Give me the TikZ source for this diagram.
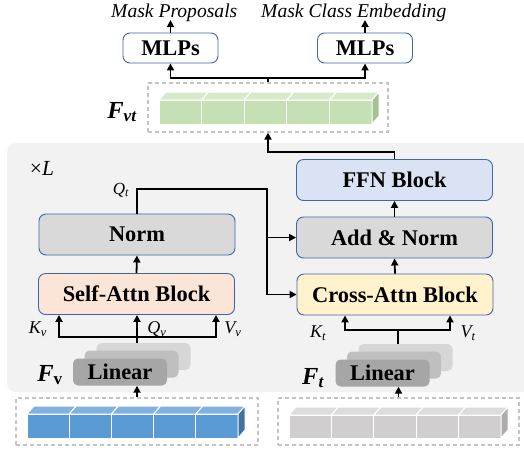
\documentclass[tikz,border=0pt]{standalone}
\usepackage{fontspec}
\setmainfont{Liberation Serif}
\usetikzlibrary{arrows.meta}

\definecolor{panelgray}{HTML}{F2F2F2}
\definecolor{edgeblue}{HTML}{3F66A8}
\definecolor{normfill}{HTML}{D9D9D9}
\definecolor{selffill}{HTML}{FBE5D6}
\definecolor{crossfill}{HTML}{FFF2CC}
\definecolor{ffnfill}{HTML}{DAE3F3}
\definecolor{linfront}{HTML}{A6A6A6}
\definecolor{linmid}{HTML}{BFBFBF}
\definecolor{linback}{HTML}{D6D6D6}
\definecolor{dashgray}{HTML}{C4C4C4}
\definecolor{bluefront}{HTML}{5B9BD5}
\definecolor{bluetop}{HTML}{80B1DF}
\definecolor{blueside}{HTML}{41719C}
\definecolor{grayfront}{HTML}{D0CECE}
\definecolor{graytop}{HTML}{DDDCDC}
\definecolor{grayside}{HTML}{AFABAB}
\definecolor{greenfront}{HTML}{C5E0B4}
\definecolor{greentop}{HTML}{D6EAC9}
\definecolor{greenside}{HTML}{A3C293}

% five-cell token bar: #1 left x, #2 top y of front faces, #3 cell width,
% #4 height, #5 front, #6 top, #7 side colour
\newcommand\cubebar[7]{%
  \foreach \i in {0,...,4}{%
    \path[fill=#5,draw=white,line width=1pt] ({#1+\i*#3},#2) rectangle ++(#3,#4);
    \path[fill=#6,draw=white,line width=1pt] ({#1+\i*#3},#2) -- ++(7,-8) -- ++(#3,0) -- ++(-7,8) -- cycle;
  }%
  \path[fill=#7,draw=white,line width=1pt] ({#1+5*#3},#2) -- ++(7,-8) -- ++(0,#4) -- ++(-7,8) -- cycle;
}

\tikzset{
  blockbox/.style={draw=edgeblue, line width=0.9pt, rounded corners=7pt,
    minimum width=196pt, minimum height=41pt, inner sep=0pt,
    font=\fontsize{22.4}{25}\selectfont\bfseries},
  mlpbox/.style={blockbox, fill=white, minimum width=95pt, minimum height=30pt},
  linbox/.style={rounded corners=5pt, minimum width=94pt, minimum height=27pt,
    inner sep=0pt, font=\fontsize{22.4}{25}\selectfont\bfseries},
  dashbox/.style={draw=dashgray, line width=1.1pt, dash pattern=on 4pt off 3pt,
    inner sep=0pt},
  line/.style={draw=black, line width=1.8pt},
  arr/.style={line, -{Triangle[length=7pt,width=7pt]}},
  arrtwo/.style={line, {Triangle[length=7pt,width=7pt]}-{Triangle[length=7pt,width=7pt]}},
  caption/.style={font=\fontsize{19.6}{23}\selectfont\itshape, inner sep=0pt},
  sublabel/.style={font=\fontsize{18}{21}\selectfont\itshape, inner sep=0pt},
  featlabel/.style={font=\fontsize{24.5}{28}\selectfont\bfseries\itshape, inner sep=0pt},
}

\begin{document}
\begin{tikzpicture}[x=1pt, y=-1pt]
\clip (0,0) rectangle (524,451);
\fill[white] (0,0) rectangle (524,451);

% repeated decoder layer panel
\fill[panelgray, rounded corners=9pt] (7,143) rectangle (545,392);
\node[font=\fontsize{21.5}{25}\selectfont, inner sep=0pt] (times) at (42,168) {×\textit{L}};

% output heads
\node[mlpbox] (mlp1) at (170.5,48) {MLPs};
\node[mlpbox] (mlp2) at (365,48) {MLPs};
\node[caption, anchor=base west] (cap1) at (111,17) {Mask Proposals};
\node[caption, anchor=base west] (cap2) at (261,17) {Mask Class Embedding};
\coordinate (cap1in) at (170.5,20);
\coordinate (cap2in) at (365,20);
\draw[arr] (mlp1.north) -- (cap1in);
\draw[arr] (mlp2.north) -- (cap2in);

% fused features F_vt
\node[dashbox, minimum width=240pt, minimum height=49pt] (fvt) at (268,107.5) {};
\cubebar{159}{100}{42.6}{24}{greenfront}{greentop}{greenside}
\node[featlabel] (fvtlab) at (122,112) {F\textsubscript{vt}};
\coordinate (bus) at (268,78);
\draw[line] (fvt.north) -- (bus);
\draw[arr] (bus) -| (mlp1.south);
\draw[arr] (bus) -| (mlp2.south);

% left branch
\node[blockbox, fill=normfill] (norm) at (137,234.5) {Norm};
\node[blockbox, fill=selffill] (self) at (136.5,294) {Self-Attn Block};
\draw[arr] (self.north) -- (norm.south);

% right branch
\node[blockbox, fill=ffnfill] (ffn) at (394.5,180) {FFN Block};
\node[blockbox, fill=normfill] (addnorm) at (394.5,237.5) {Add \& Norm};
\node[blockbox, fill=crossfill] (cross) at (395,294.5) {Cross-Attn Block};
\draw[arr] (addnorm.north) -- (ffn.south);
\draw[arr] (cross.north) -- (addnorm.south);

% FFN output back to F_vt
\coordinate (ffnturn) at (268,152);
\draw[arr] (ffn.north) |- (ffnturn) -- (fvt.south);

% query path Q_t
\coordinate (qt) at (267,189);
\node[sublabel, font=\fontsize{17}{20}\selectfont\itshape] (qtlab) at (121,190) {Q\textsubscript{t}};
\draw[arr] (norm.north) |- (qt) |- (cross.west);
\draw[arr] (qt |- addnorm.west) -- (addnorm.west);

% visual linear stack
\node[linbox, fill=linback] (lin1back) at (143.5,356.5) {};
\node[linbox, fill=linmid] (lin1mid) at (131.5,364) {};
\node[linbox, fill=linfront] (lin1) at (120,372) {Linear};
\node[featlabel] (fvlab) at (50,375) {F\textsubscript{\upshape v}};

% K_v, Q_v, V_v
\coordinate (kvl) at (59,337);
\coordinate (kvm) at (137,337);
\coordinate (kvr) at (216,337);
\draw[arrtwo] (kvl |- self.south) -- (kvl) -- (kvr) -- (kvr |- self.south);
\draw[arr] (kvm |- lin1back.north) -- (kvm |- self.south);
\node[sublabel] (kvlab) at (38,329) {K\textsubscript{v}};
\node[sublabel] (qvlab) at (157,329) {Q\textsubscript{v}};
\node[sublabel] (vvlab) at (233,329) {V\textsubscript{v}};

% visual tokens
\node[dashbox, minimum width=242pt, minimum height=47pt] (vbox) at (137,421.5) {};
\cubebar{27}{414}{42.2}{24}{bluefront}{bluetop}{blueside}
\draw[arr] (vbox.north) -- (vbox.north |- lin1.south);

% text linear stack
\node[linbox, fill=linback] (lin2back) at (405.5,357.5) {};
\node[linbox, fill=linmid] (lin2mid) at (394,365) {};
\node[linbox, fill=linfront] (lin2) at (382.5,373) {Linear};
\node[featlabel] (ftlab) at (313,378) {F\textsubscript{t}};

% K_t, V_t
\coordinate (ktl) at (345,330);
\coordinate (ktm) at (398,330);
\coordinate (ktr) at (450,330);
\draw[arrtwo] (ktl |- cross.south) -- (ktl) -- (ktr) -- (ktr |- cross.south);
\draw[line] (ktm |- lin2back.north) -- (ktm);
\node[sublabel] (ktlab) at (318,333) {K\textsubscript{t}};
\node[sublabel] (vtlab) at (468,333) {V\textsubscript{t}};

% text tokens
\node[dashbox, minimum width=241pt, minimum height=47pt] (tbox) at (398.5,421.5) {};
\cubebar{289}{415}{42.4}{23}{grayfront}{graytop}{grayside}
\draw[arr] (tbox.north) -- (tbox.north |- lin2.south);
\end{tikzpicture}
\end{document}
